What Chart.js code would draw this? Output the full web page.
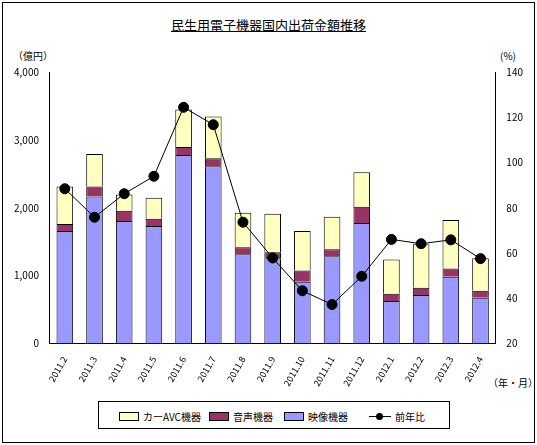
<!DOCTYPE html>
<html><head><meta charset="utf-8">
<script src="https://cdn.jsdelivr.net/npm/chart.js"></script>
<style>
body{margin:0;background:#fff;font-family:"Noto Sans CJK JP",sans-serif;}
#wrap{position:absolute;left:2px;top:2px;width:531px;height:439px;border:1px solid #000;}
#title{position:absolute;left:0;width:100%;top:12px;text-align:center;font-size:13px;}
#title span{text-decoration:underline;}
.lab{position:absolute;font-size:10px;}
#legend{position:absolute;left:95px;top:398px;width:350px;height:26px;border:1px solid #000;font-size:10px;}
.li{position:absolute;top:7px;display:flex;align-items:center;}
.sw{width:18px;height:7px;border:1px solid #000;margin-right:4px;}
</style></head><body>
<div id="wrap">
<div id="title"><span>民生用電子機器国内出荷金額推移</span></div>
<div class="lab" style="left:10px;top:45px">（億円）</div>
<div class="lab" style="left:497px;top:45px">(%)</div>
<div class="lab" style="left:485px;top:372px">（年・月）</div>
<canvas id="c" style="position:absolute;left:0;top:60px;width:531px;height:328px" width="531" height="328"></canvas>
<div id="legend">
<div class="li" style="left:20px"><div class="sw" style="background:#ffffc0"></div>カーAVC機器</div>
<div class="li" style="left:110px"><div class="sw" style="background:#993366"></div>音声機器</div>
<div class="li" style="left:185px"><div class="sw" style="background:#9999ff"></div>映像機器</div>
<div class="li" style="left:270px"><div style="width:22px;height:1px;background:#000;position:relative;margin-right:4px"><div style="position:absolute;left:7px;top:-3px;width:7px;height:7px;border-radius:50%;background:#000"></div></div>前年比</div>
</div>
</div>
<script>
const categories=["2011.2","2011.3","2011.4","2011.5","2011.6","2011.7","2011.8","2011.9","2011.10","2011.11","2011.12","2012.1","2012.2","2012.3","2012.4"];
const video=[1657,2164,1806,1731,2776,2612,1313,1254,910,1284,1776,627,716,985,672];
const audioTop=[1761,2313,1955,1836,2896,2731,1418,1343,1075,1388,2015,731,821,1104,776];
const totalTop=[2313,2791,2194,2149,3448,3343,1925,1910,1657,1866,2522,1239,1463,1821,1254];
const yoy=[88.4,75.8,86.2,93.9,124.4,116.7,73.6,57.8,43.3,37.2,49.7,66.0,64.1,65.8,57.5];
const audio=audioTop.map((v,i)=>v-video[i]);
const car=totalTop.map((v,i)=>v-audioTop[i]);
const ff="'Noto Sans CJK JP',sans-serif";
new Chart(document.getElementById('c'),{
data:{labels:categories,datasets:[
{type:'line',label:'前年比',data:yoy,yAxisID:'y1',borderColor:'#000',borderWidth:1,pointRadius:5,pointBackgroundColor:'#000',pointBorderColor:'#000',tension:0},
{type:'bar',label:'映像機器',data:video,backgroundColor:'#9999ff',borderColor:'#000',borderWidth:1,stack:'s',barPercentage:0.56,categoryPercentage:1},
{type:'bar',label:'音声機器',data:audio,backgroundColor:'#993366',borderColor:'#000',borderWidth:1,stack:'s',barPercentage:0.56,categoryPercentage:1},
{type:'bar',label:'カーAVC機器',data:car,backgroundColor:'#ffffc0',borderColor:'#000',borderWidth:1,stack:'s',barPercentage:0.56,categoryPercentage:1}
]},
options:{responsive:false,animation:false,
layout:{padding:{left:8,right:8,top:8,bottom:0}},
plugins:{legend:{display:false},tooltip:{enabled:false}},
scales:{
x:{stacked:true,grid:{display:false},border:{color:'#000'},ticks:{color:'#000',font:{size:9,family:ff},maxRotation:60,minRotation:60}},
y:{stacked:true,min:0,max:4000,position:'left',grid:{display:false},border:{color:'#000'},ticks:{stepSize:1000,color:'#000',font:{size:10,family:ff},callback:v=>v.toLocaleString('en-US')}},
y1:{min:20,max:140,position:'right',grid:{display:false},border:{color:'#000'},ticks:{stepSize:20,color:'#000',font:{size:10,family:ff}}}
}}});
</script>
</body></html>
